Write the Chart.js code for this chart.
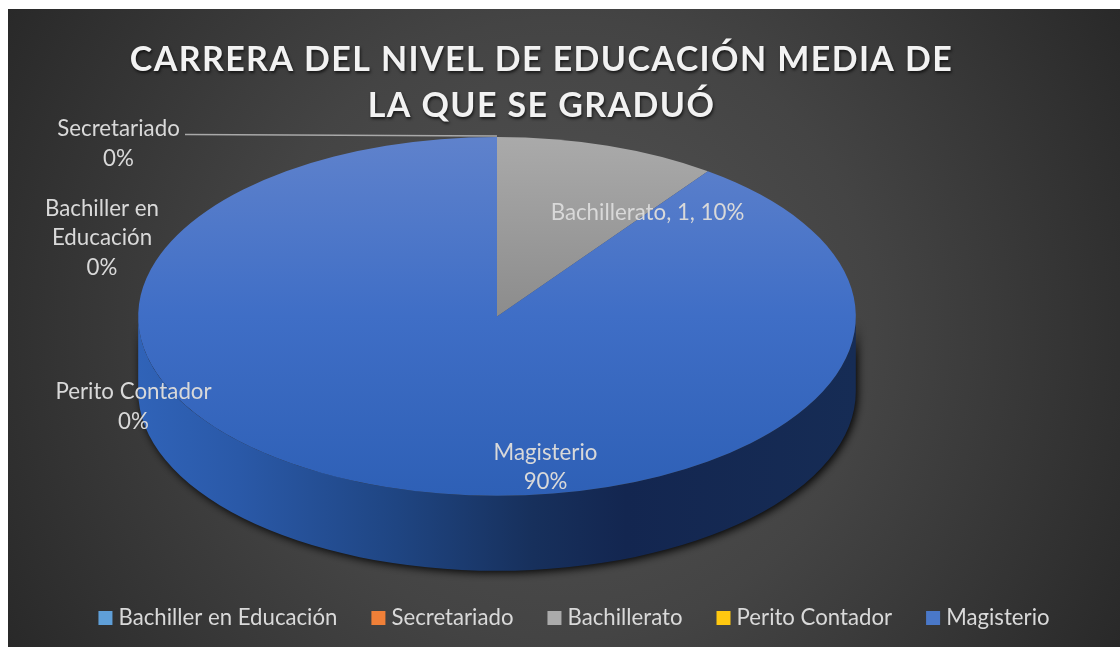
<!DOCTYPE html>
<html lang="es">
<head>
<meta charset="utf-8">
<title>Carrera del nivel de educación media</title>
<style>
html,body{margin:0;padding:0;background:#fff;overflow:hidden}
canvas{display:block}
</style>
<script src="https://cdn.jsdelivr.net/npm/chart.js@4/dist/chart.umd.min.js"></script>
</head>
<body>
<canvas id="c" width="1120" height="647"></canvas>
<script>
const titleLines = ['CARRERA DEL NIVEL DE EDUCACIÓN MEDIA DE', 'LA QUE SE GRADUÓ'];
const categories = ['Bachiller en Educación', 'Secretariado', 'Bachillerato', 'Perito Contador', 'Magisterio'];
const counts = [0, 0, 1, 0, 9];
const percents = [0, 0, 10, 0, 90];
const swatchTop = ['#5f9fd8', '#f08038', '#ababab', '#ffc810', '#4a78c8'];
const swatchBottom = ['#4f8dc8', '#e0701f', '#969696', '#f0b400', '#3565b8'];
const labelLines = [
  ['Bachiller en', 'Educación', percents[0] + '%'],
  [categories[1], percents[1] + '%'],
  [categories[2] + ', ' + counts[2] + ', ' + percents[2] + '%'],
  [categories[3], percents[3] + '%'],
  [categories[4], percents[4] + '%']
];

/* layout constants (not data) */
const PANEL = {x: 8, y: 9};
const PIE = {cx: 497, stretch: 2, depth: 75};
const LABEL_POS = [
  {x: 102, y: 208.5, lh: 29.5},
  {x: 118.5, y: 128.5, lh: 30},
  {x: 647.5, y: 213, lh: 29},
  {x: 133.5, y: 391.5, lh: 30},
  {x: 545.5, y: 453, lh: 29}
];
const LEADER = [[185, 134.5], [497, 136]];
const TITLE_SHIFT = {dx: -18.5, dy: 2, spacing: '1.4px'};
const LEGEND_SHIFT = {dx: 16.5, dy: 72};
const FONT = 'Lato, Carlito, "Open Sans", sans-serif';

function topGradient(ctx, stops) {
  const g = ctx.createLinearGradient(0, 137, 0, 496);
  stops.forEach(s => g.addColorStop(s[0], s[1]));
  return g;
}

const pie3d = {
  id: 'pie3d',
  beforeDraw(chart) {
    const ctx = chart.ctx;
    ctx.save();
    const g = ctx.createRadialGradient(564, 328, 40, 564, 328, 640);
    g.addColorStop(0, '#525252');
    g.addColorStop(0.45, '#444444');
    g.addColorStop(1, '#292929');
    ctx.fillStyle = g;
    ctx.fillRect(PANEL.x, PANEL.y, chart.width - PANEL.x, chart.height - PANEL.y);
    ctx.restore();

    if (!chart.$wrapped) {
      chart.$wrapped = true;
      const t = chart.titleBlock, tDraw = t.draw;
      t.draw = function () {
        const c = this.ctx;
        c.save();
        c.translate(TITLE_SHIFT.dx, TITLE_SHIFT.dy);
        c.letterSpacing = TITLE_SHIFT.spacing;
        c.shadowColor = 'rgba(0,0,0,0.65)';
        c.shadowBlur = 3;
        c.shadowOffsetX = 1;
        c.shadowOffsetY = 2;
        tDraw.apply(this, arguments);
        c.restore();
      };
      const l = chart.legend, lDraw = l.draw;
      l.draw = function () {
        const c = this.ctx;
        c.save();
        c.translate(LEGEND_SHIFT.dx, LEGEND_SHIFT.dy);
        lDraw.apply(this, arguments);
        c.restore();
      };
    }
  },
  beforeDatasetDraw(chart) {
    const ctx = chart.ctx;
    const arcs = chart.getDatasetMeta(0).data;
    const first = arcs[0];
    const rx = first.outerRadius * PIE.stretch, ry = first.outerRadius;
    const cy = first.y, cx = PIE.cx, d = PIE.depth;

    /* side wall, only the part of each slice that faces the viewer */
    ctx.save();
    const side = ctx.createLinearGradient(cx - rx, 0, cx + rx, 0);
    side.addColorStop(0, '#3063b8');
    side.addColorStop(0.14, '#2a59a8');
    side.addColorStop(0.36, '#1f4582');
    side.addColorStop(0.55, '#17305c');
    side.addColorStop(0.68, '#132650');
    side.addColorStop(1, '#162c55');
    arcs.forEach(a => {
      if (a.circumference <= 0) return;
      const TAU = Math.PI * 2;
      for (const shift of [0, TAU]) {
        const s = Math.max(a.startAngle + shift, 0), e = Math.min(a.endAngle + shift, Math.PI);
        if (e <= s) continue;
        ctx.save();
        ctx.shadowColor = 'rgba(0,0,0,0.95)';
        ctx.shadowBlur = 9;
        ctx.shadowOffsetX = 2;
        ctx.shadowOffsetY = 2;
        ctx.fillStyle = side;
        ctx.beginPath();
        ctx.ellipse(cx, cy, rx, ry, 0, s, e);
        ctx.ellipse(cx, cy + d, rx, ry, 0, e, s, true);
        ctx.closePath();
        ctx.fill();
        ctx.restore();
      }
    });
    ctx.restore();

    /* squash the library's circular pie into the perspective ellipse */
    ctx.save();
    ctx.translate(PIE.cx, 0);
    ctx.scale(PIE.stretch, 1);
    ctx.translate(-first.x, 0);
  },
  afterDatasetDraw(chart) {
    chart.ctx.restore();
  },
  afterDatasetsDraw(chart) {
    const ctx = chart.ctx;
    ctx.save();
    ctx.strokeStyle = '#a9a9a9';
    ctx.lineWidth = 1.6;
    ctx.beginPath();
    ctx.moveTo(LEADER[0][0], LEADER[0][1]);
    ctx.lineTo(LEADER[1][0], LEADER[1][1]);
    ctx.stroke();
    ctx.fillStyle = '#d9d9d9';
    ctx.font = '22.3px ' + FONT;
    ctx.textAlign = 'center';
    ctx.textBaseline = 'middle';
    labelLines.forEach((lines, i) => {
      const p = LABEL_POS[i];
      lines.forEach((t, k) => ctx.fillText(t, p.x, p.y + k * p.lh));
    });
    ctx.restore();
  }
};

const canvas = document.getElementById('c');
const c2d = canvas.getContext('2d');

const sliceFills = [
  swatchTop[0],
  swatchTop[1],
  topGradient(c2d, [[0, '#aaaaaa'], [0.5, '#8c8c8c']]),
  swatchTop[3],
  topGradient(c2d, [[0, '#5f82cc'], [0.25, '#4f78c9'], [0.5, '#3f6ec6'], [1, '#2e60b6']])
];

new Chart(c2d, {
  type: 'pie',
  data: {
    labels: categories,
    datasets: [{data: counts, backgroundColor: sliceFills, borderWidth: 0}]
  },
  plugins: [pie3d],
  options: {
    responsive: false,
    animation: false,
    devicePixelRatio: 1,
    events: [],
    layout: {padding: {top: 0, bottom: 80, left: 0, right: 0}},
    plugins: {
      tooltip: {enabled: false},
      title: {
        display: true,
        text: titleLines,
        color: '#f2f2f2',
        font: {family: FONT, size: 34, weight: 'bold', lineHeight: 46 / 34},
        padding: {top: 35, bottom: 10}
      },
      legend: {
        display: true,
        position: 'bottom',
        labels: {
          color: '#d9d9d9',
          font: {family: FONT, size: 22.2},
          boxWidth: 4,
          boxHeight: 14,
          padding: 39,
          usePointStyle: true,
          generateLabels(chart) {
            const ctx = chart.ctx;
            return categories.map((name, i) => {
              const g = ctx.createLinearGradient(0, 609, 0, 624);
              g.addColorStop(0, swatchTop[i]);
              g.addColorStop(1, swatchBottom[i]);
              return {text: name, fillStyle: g, strokeStyle: 'rgba(0,0,0,0)', lineWidth: 0,
                      pointStyle: 'rect', fontColor: '#d9d9d9', index: i, hidden: false};
            });
          }
        }
      }
    }
  }
});
</script>
</body>
</html>
